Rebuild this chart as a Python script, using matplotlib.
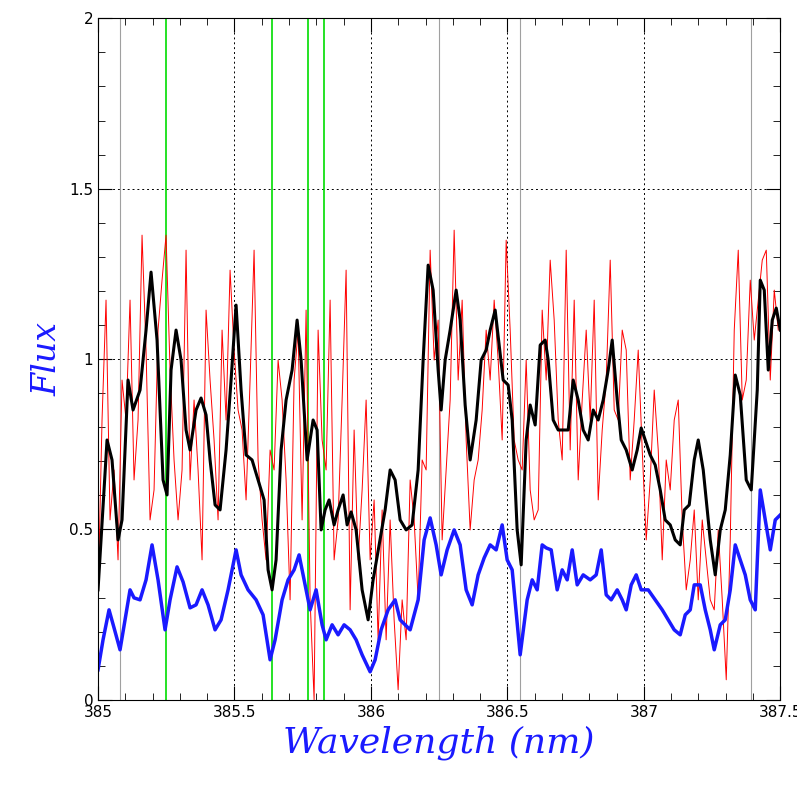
import numpy as np
import matplotlib.pyplot as plt
from matplotlib.ticker import MultipleLocator

# digitized in pixel coordinates of the original image, converted below
def px_to_wl(px):
    return 385 + (np.array(px) - 98) / 272.8

def py_to_flux(py):
    return (700 - np.array(py)) / 341.0

black_px = [98,107,112,118,122,128,133,140,146,151,157,163,167,171,176,181,186,190,196,201,206,210,215,220,226,231,236,241,246,252,258,264,268,272,276,281,286,292,297,301,307,313,317,321,325,329,334,338,343,347,351,356,362,368,373,379,385,390,395,400,406,412,418,423,428,433,438,441,445,450,456,460,465,470,476,481,486,490,495,499,503,508,512,517,521,526,530,535,540,545,548,553,558,563,568,573,578,583,588,593,598,603,608,612,617,621,626,632,637,641,645,650,655,660,665,670,675,680,684,689,694,698,703,710,715,720,725,730,735,740,746,751,757,760,764,768,772,776,780]
black_py = [590,440,460,540,520,380,410,390,330,272,340,480,495,370,330,360,430,450,410,398,415,460,505,510,450,380,305,390,455,460,480,500,570,590,560,450,400,370,320,360,460,420,430,530,510,500,525,510,495,525,512,530,590,620,580,545,510,470,480,520,530,525,470,360,265,290,370,410,360,330,290,320,405,460,420,360,350,330,310,345,380,385,420,530,565,440,405,425,345,340,360,420,430,430,430,380,400,430,440,410,420,400,370,340,400,440,450,470,450,428,440,455,465,490,520,525,540,545,510,505,460,440,470,540,575,530,510,455,375,395,480,490,390,280,290,370,320,308,330]

blue_px = [98,103,109,114,120,125,130,134,140,146,152,158,165,170,177,183,190,196,202,208,215,221,228,236,241,248,256,263,270,275,282,288,294,299,304,310,316,322,326,332,338,344,350,356,362,370,375,381,388,395,400,410,418,424,430,436,441,447,454,460,466,472,478,484,490,496,502,507,512,520,527,532,537,542,546,551,557,562,567,572,577,583,590,596,601,606,611,617,622,626,631,636,641,648,655,662,668,674,680,685,690,694,700,705,710,714,720,725,730,735,740,745,750,755,760,765,770,775,780]
blue_py = [670,640,610,628,650,620,590,598,600,580,545,580,630,600,567,582,608,605,590,605,630,620,590,550,575,590,600,615,660,640,600,580,570,555,580,610,590,625,640,625,635,625,630,640,655,672,660,630,610,600,620,630,600,540,518,545,575,550,530,545,590,605,575,558,545,550,525,560,570,655,600,580,590,545,548,550,590,570,580,550,585,575,580,575,550,595,600,590,600,610,585,575,590,590,600,610,620,630,635,615,610,585,585,610,630,650,625,620,590,545,560,575,600,610,490,520,550,520,515]

red_px = list(range(98, 782, 4))
red_py = [600,420,300,520,470,560,380,420,300,480,420,235,350,520,490,330,280,235,370,460,520,470,250,480,400,470,560,310,380,440,520,330,420,270,350,410,430,500,380,250,460,520,560,450,470,360,400,480,600,380,330,520,310,600,700,330,440,470,300,560,520,400,270,610,430,560,490,400,560,500,640,510,640,520,620,690,600,640,480,520,600,460,470,250,360,320,540,470,400,230,380,300,440,530,480,460,410,330,380,300,360,440,240,330,440,460,470,360,490,520,510,310,380,260,320,420,460,250,450,300,480,400,330,420,300,500,430,380,260,410,420,330,350,480,420,350,450,540,480,390,450,560,460,490,420,400,520,590,560,510,600,520,560,600,610,530,600,680,540,330,250,400,380,280,340,300,260,250,380,290,330]

green_lines = [385.249, 385.638, 385.77, 385.828]
gray_lines = [385.08, 386.25, 386.547, 387.394]

fig, ax = plt.subplots(figsize=(7.97, 7.97), dpi=100)
fig.subplots_adjust(left=0.123, right=0.979, bottom=0.122, top=0.977)

for g in gray_lines:
    ax.axvline(g, color='#a0a0a0', lw=0.8)
for g in green_lines:
    ax.axvline(g, color='#00dd00', lw=1.2)

ax.plot(px_to_wl(red_px), py_to_flux(red_py), color='red', lw=0.7)
ax.plot(px_to_wl(black_px), py_to_flux(black_py), color='black', lw=2.2,
        solid_joinstyle='round')
ax.plot(px_to_wl(blue_px), py_to_flux(blue_py), color='#1a1aff', lw=2.5,
        solid_joinstyle='round')

ax.set_xlim(385, 387.5)
ax.set_ylim(0, 2)
ax.xaxis.set_minor_locator(MultipleLocator(0.1))
ax.yaxis.set_minor_locator(MultipleLocator(0.1))
ax.set_xticks([385, 385.5, 386, 386.5, 387, 387.5])
ax.set_xticklabels(['385', '385.5', '386', '386.5', '387', '387.5'])
ax.set_yticks([0, 0.5, 1, 1.5, 2])
ax.set_yticklabels(['0', '0.5', '1', '1.5', '2'])
ax.tick_params(which='both', direction='in', top=True, right=True, labelsize=11)
ax.tick_params(which='major', length=10)
ax.tick_params(which='minor', length=5)
ax.grid(True, which='major', color='black', linestyle=(0, (2, 3)), lw=0.7)

ax.set_xlabel('Wavelength (nm)', color='#1a1aff', fontsize=26, family='DejaVu Serif', style='italic')
ax.set_ylabel('Flux', color='#1a1aff', fontsize=24, family='DejaVu Serif', style='italic')

fig.savefig('out.png')
